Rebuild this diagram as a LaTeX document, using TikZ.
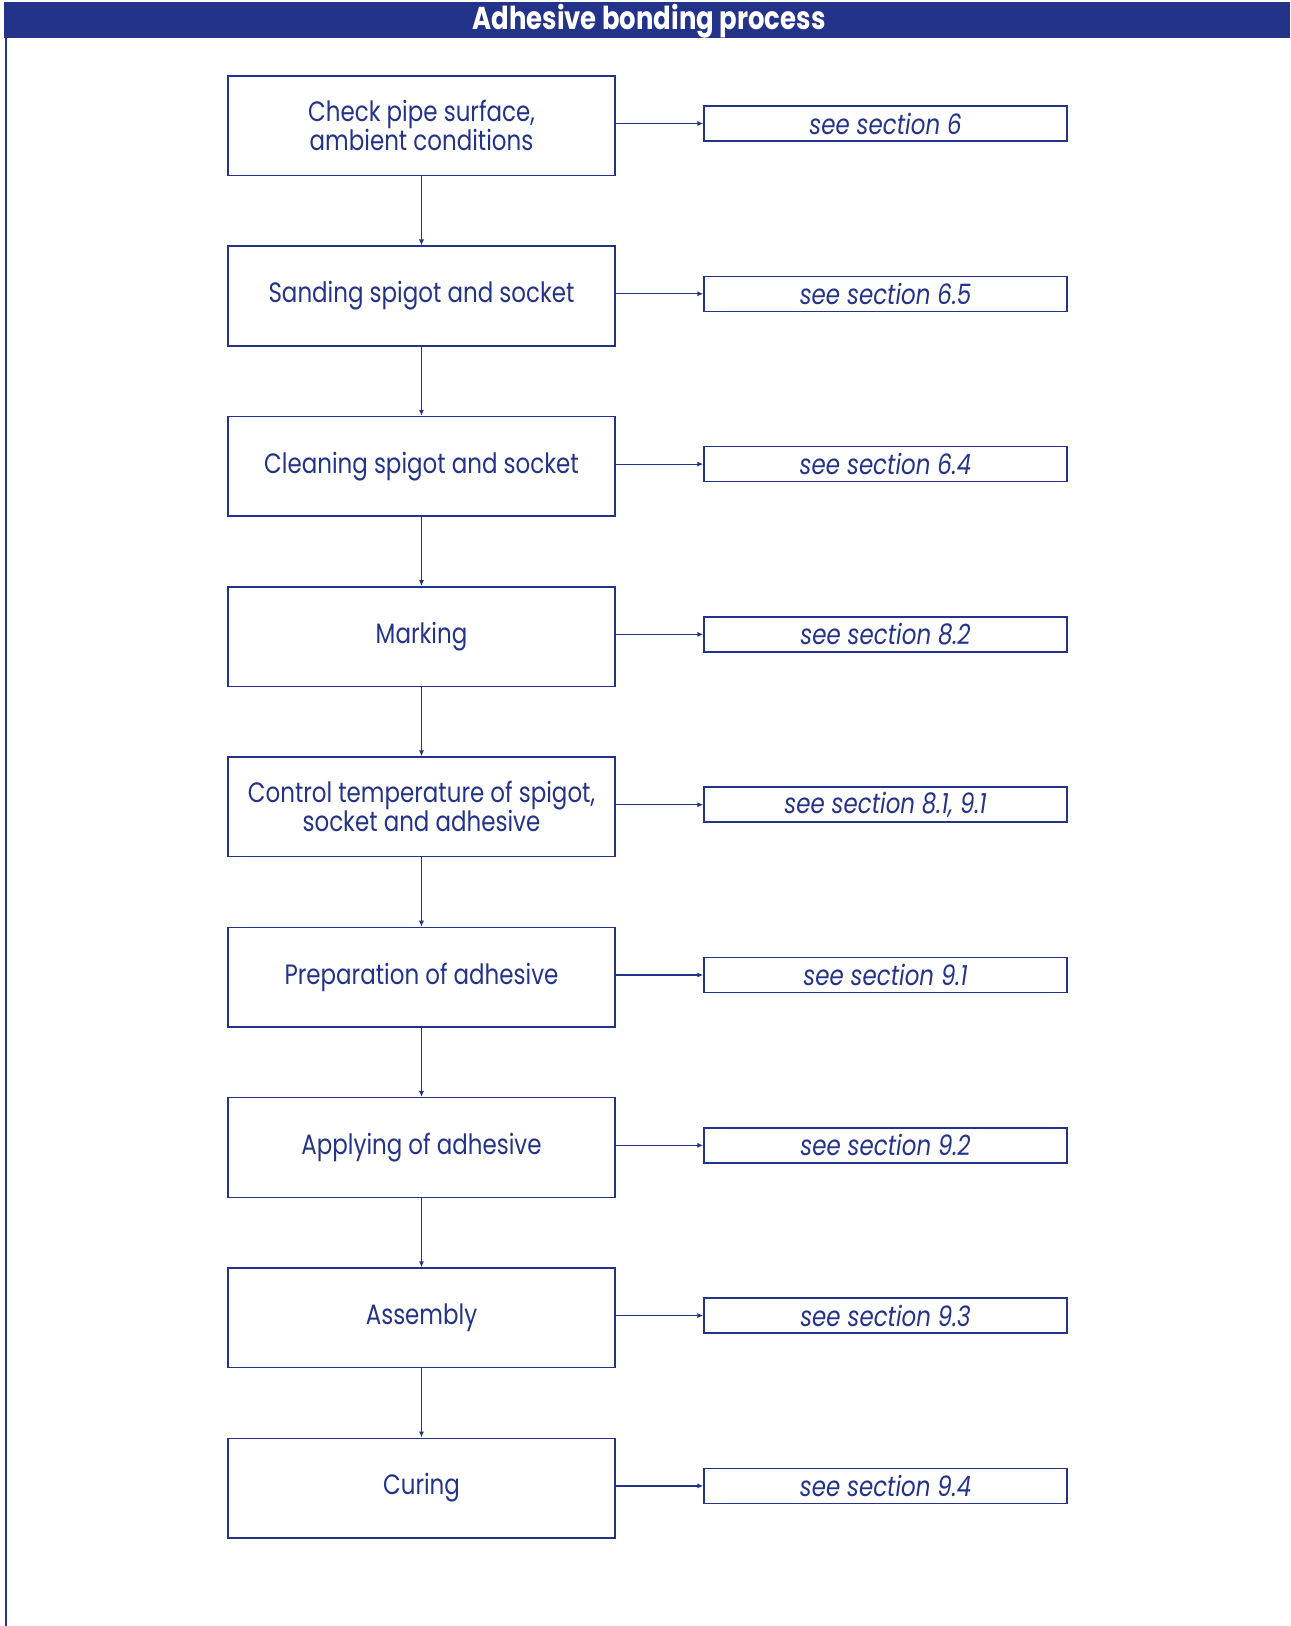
\documentclass[tikz,border=0pt]{standalone}
\usepackage{fontspec}
\setmainfont{Poppins}[FakeStretch=0.82]
\usetikzlibrary{arrows.meta}
\definecolor{pipeblue}{RGB}{36,51,138}

\tikzset{
  stepbox/.style={draw=pipeblue, line width=0.75pt, minimum width=193.5pt,
    minimum height=49.8pt, align=center, text=pipeblue,
    font=\fontsize{14}{14.5}\selectfont},
  refbox/.style={draw=pipeblue, line width=0.75pt, minimum width=181.5pt,
    minimum height=17.5pt, inner sep=0pt, text=pipeblue,
    font=\fontsize{14}{14.5}\selectfont\itshape},
  flow/.style={-{Latex[length=3pt,width=2.6pt]}, pipeblue, line width=0.6pt}
}

\begin{document}
\begin{tikzpicture}[x=0.5pt, y=-0.5pt]
      \useasboundingbox (0, 0) rectangle (1290, 1626);
      % header band and left rule
      \fill[pipeblue] (4, 2) rectangle (1290, 38);
      \node[anchor=base, inner sep=0pt, text=white, font=\fontsize{15.8}{16}\selectfont\bfseries] (title) at (649, 29.5) {Adhesive bonding process};
      \draw[pipeblue, line width=1.3pt] (6, 38) -- (6, 1626);
      % process steps with their references
      \foreach \steptext/\reftext [count=\i] in {
          {Check pipe surface,\\ambient conditions}/{see section 6},
          {Sanding spigot and socket}/{see section 6.5},
          {Cleaning spigot and socket}/{see section 6.4},
          {Marking}/{see section 8.2},
          {Control temperature of spigot,\\socket and adhesive}/{see section 8.1, 9.1},
          {Preparation of adhesive}/{see section 9.1},
          {Applying of adhesive}/{see section 9.2},
          {Assembly}/{see section 9.3},
          {Curing}/{see section 9.4}} {
        \node[stepbox] (s\i) at (421.5, {125.7+170.3*(\i-1)}) {\steptext};
        \node[refbox] (r\i) at (885.5, {123.5+170.3*(\i-1)}) {\reftext};
        \draw[flow] (s\i.east |- r\i.west) -- (r\i.west);
      }
      \foreach \i [count=\j from 2] in {1, ..., 8} {
        \draw[flow] (s\i) -- (s\j);
      }
    \end{tikzpicture}
\end{document}
